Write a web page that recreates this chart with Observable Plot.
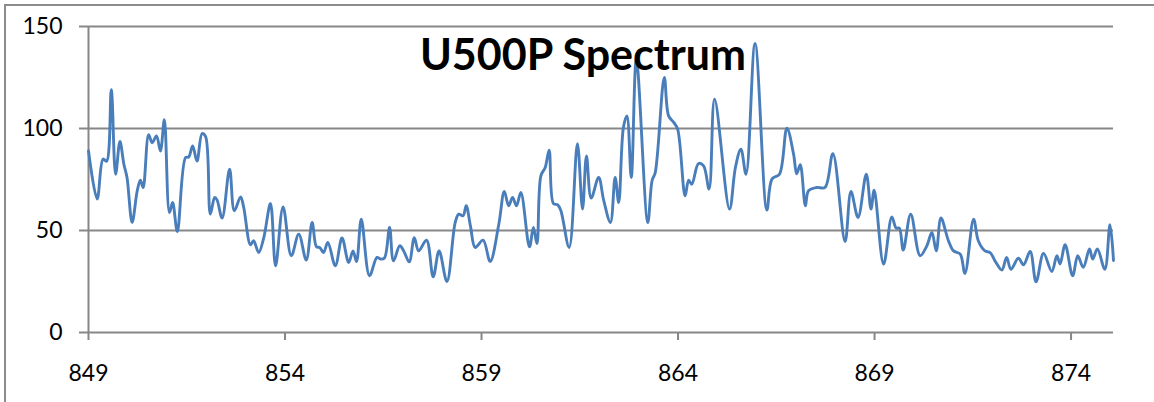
<!DOCTYPE html>
<html><head><meta charset="utf-8">
<script src="https://cdn.jsdelivr.net/npm/d3@7"></script>
<script src="https://cdn.jsdelivr.net/npm/@observablehq/plot@0.6"></script>
<style>
body{margin:0;background:#fff;}
#wrap{position:relative;width:1154px;height:402px;overflow:hidden;background:#fff;}
#frame{position:absolute;left:4px;top:4px;width:1200px;height:500px;border-left:2px solid #8c8c8c;border-top:2px solid #8c8c8c;pointer-events:none;}
#wrap svg{position:absolute;left:0;top:0;}
</style></head><body>
<div id="wrap"><div id="frame"></div></div>
<script>
const title = "U500P Spectrum";
const xTicks = [849, 854, 859, 864, 869, 874];
const yTicks = [0, 50, 100, 150];
const freq = [
849.00,849.22,849.37,849.46,849.58,849.69,849.80,849.90,849.98,850.11,850.24,850.32,850.39,850.53,850.62,850.73,850.83,850.93,
851.06,851.14,851.26,851.47,851.55,851.65,851.76,851.89,851.98,852.10,852.21,852.27,852.40,852.59,852.71,852.87,852.95,
853.12,853.20,853.33,853.46,853.63,853.76,853.95,854.16,854.35,854.54,854.69,854.80,854.88,854.98,855.09,855.28,855.45,
855.62,855.73,855.82,855.94,856.15,856.34,856.43,856.53,856.66,856.76,856.92,857.02,857.16,857.29,857.40,857.60,857.77,
857.92,858.12,858.33,858.42,858.53,858.61,858.72,858.84,859.04,859.22,859.44,859.58,859.69,859.79,859.89,860.00,860.22,
860.32,860.41,860.51,860.62,860.72,860.83,860.94,861.02,861.23,861.44,861.57,861.67,861.79,861.98,862.11,862.28,862.40,
862.49,862.61,862.70,862.81,862.94,863.23,863.34,863.42,863.65,863.76,863.89,863.99,864.18,864.27,864.35,864.52,864.65,
864.79,864.93,865.31,865.46,865.60,865.73,865.96,866.26,866.39,866.58,866.77,866.94,867.02,867.11,867.24,867.32,867.53,
867.74,867.94,868.25,868.40,868.58,868.79,868.91,868.99,869.23,869.44,869.55,869.63,869.73,869.92,870.16,870.33,870.46,
870.57,870.69,870.88,871.01,871.18,871.30,871.52,871.64,871.81,871.94,872.09,872.24,872.36,872.47,872.66,872.79,872.96,
873.11,873.30,873.51,873.64,873.72,873.85,874.04,874.17,874.31,874.47,874.55,874.67,874.86,874.99,875.08
];
const power = [
89,65.4,85,84,119,77.6,93.6,82.5,76,54,69.5,74.7,71,97,93,96.4,89,104.3,
58.8,63.7,49.5,85.8,86,91.5,84,97.5,96,58,66.2,65,56.1,80.1,59.7,66.5,61.2,
43,45,39.2,46.5,63.2,32.7,61.6,37.6,48.2,35.5,53.9,42,41.7,39.2,44.1,32.7,46.3,
34.3,40,34.8,55.6,27.8,36.8,36,36.5,51.5,35.1,42.5,40,34.6,46.5,40,45.3,27.3,
40,25,53.9,58,57.2,62.1,52,41.7,45.3,34.8,53.1,69.1,62.1,66.2,62.1,68.6,42,
51.5,43.6,76.8,80.9,89.4,63.2,62.6,59.7,41.7,92.6,60.5,86.6,65.9,76,64.6,53.9,76,
63.7,100.5,106.2,76,134,53.9,74.5,78.4,125,106.2,103,99.7,67,74.7,72.7,82.8,81.7,
70.3,114.4,60.5,80.9,89.9,77.6,141.7,60,75.2,77.6,100.2,87.4,77.8,82.2,62.1,69.5,71.1,
71.1,87.7,44.6,69.1,56.4,77.6,60.5,69.8,33.5,56.7,51.2,51.2,40.4,58,37.6,42.5,49,
40,56.1,45,40,38.4,28.9,55.6,45,40,39.2,34.3,30.6,36.8,31,36.4,33.2,39.7,
24.8,38.8,29.9,37.6,33.6,43,27.8,37.6,31.9,40.9,36,40.9,31,52.8,35.3
];
const data = freq.map((f, i) => ({freq: f, power: power[i]}));
const gridColor = "#878787";
const chart = Plot.plot({
  width: 1154,
  height: 402,
  marginLeft: 88,
  marginRight: 41,
  marginTop: 26,
  marginBottom: 70,
  style: {fontFamily: "Lato, sans-serif", fontSize: "23px", color: "#000", background: "transparent"},
  x: {domain: [849, 875.08], label: null},
  y: {domain: [0, 150], label: null},
  marks: [
    Plot.ruleY(yTicks, {stroke: gridColor, strokeWidth: 2}),
    Plot.ruleX([849], {y1: 0, y2: 150, stroke: gridColor, strokeWidth: 2}),
    Plot.axisY(yTicks, {tickSize: 9, tickPadding: 17, stroke: gridColor, strokeWidth: 2, fill: "#000", fontSize: 23, label: null}),
    Plot.axisX(xTicks, {tickSize: 8, tickPadding: 24, stroke: gridColor, strokeWidth: 2, fill: "#000", fontSize: 23, label: null}),
    Plot.line(data, {x: "freq", y: "power", stroke: "#4A7EBB", strokeWidth: 2.9, curve: "catmull-rom"}),
    Plot.text([title], {text: d => d, frameAnchor: "top", dx: -18, dy: 30, lineAnchor: "middle", fontSize: 43, fontWeight: "bold", fill: "#000", fontFamily: "Lato, sans-serif"})
  ]
});
document.getElementById("wrap").appendChild(chart);
</script>
</body></html>
